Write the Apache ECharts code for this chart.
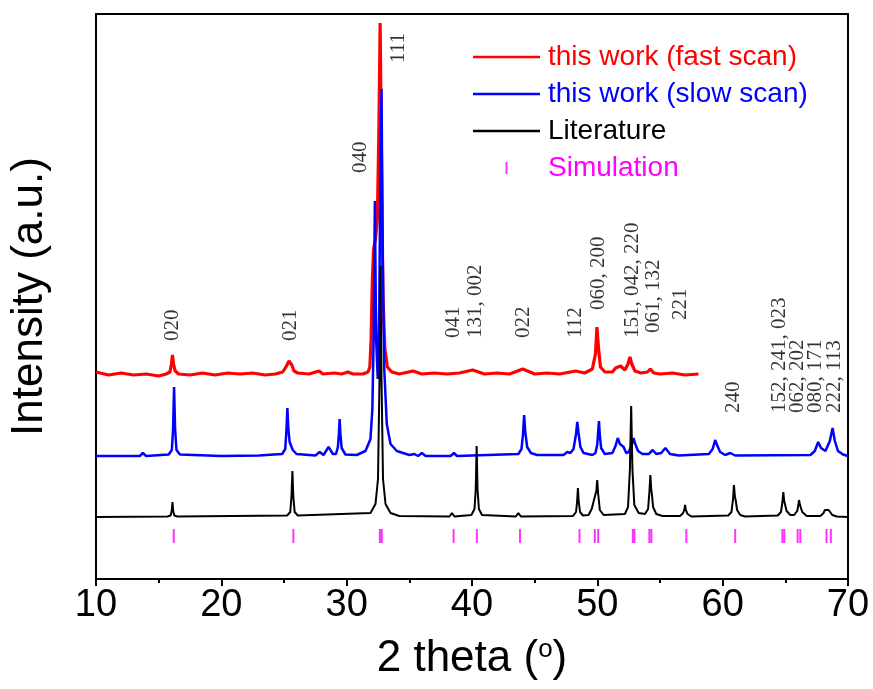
<!DOCTYPE html>
<html><head><meta charset="utf-8">
<script src="https://cdn.jsdelivr.net/npm/echarts/dist/echarts.min.js"></script>
<style>html,body{margin:0;padding:0;background:#fff}#c{width:873px;height:689px}</style>
</head><body><div id="c"></div>
<script>
// x-axis tick values (2 theta, degrees)
const xTickMin = 10, xTickMax = 70, xTickStep = 10;

// Series names
const seriesNames = ['this work (fast scan)', 'this work (slow scan)', 'Literature', 'Simulation'];

// Fast scan pattern [2theta, intensity a.u. incl. vertical offset]
const fastScan = [
 [10,207],[11,204],[12,206],[13,204],[14,205],[15,203],[15.6,205],[15.9,207],[16.02,215],[16.1,224],[16.18,215],[16.32,208],[16.6,205],
 [17.5,204],[18.5,206],[19.5,204],[20.5,206],[21.5,205],[22.5,206],[23.5,204],[24.3,205],[24.9,207],[25.2,213],[25.4,218],[25.5,217],[25.62,214],[25.8,208],[26.1,206],
 [27,205],[27.8,208],[28.1,205],[29,206],[29.6,205],[30.1,207],[30.5,205],[31.3,205],[31.7,207],[31.85,212],[31.95,240],[32.05,300],[32.15,330],[32.3,340],[32.45,360],[32.57,450],[32.67,556],[32.77,430],[32.9,280],[33.05,230],[33.25,212],[33.6,207],
 [34.2,205],[35.3,208],[36,205],[37,206],[38,205],[39,206],[40.05,209],[41,205],[42,206],[43,205],[44.05,210],[45,205],[46,206],[47,205],[48.27,208],[49,206],
 [49.6,210],[49.85,225],[49.97,252],[50.1,230],[50.25,212],[50.6,207],[51.2,207],[51.46,211],[51.6,209],[51.86,213],[52.2,209],[52.45,215],[52.6,222],[52.75,215],[53,208],[53.5,206],
 [54,207],[54.23,210],[54.5,206],[55,205],[56,206],[57,204],[58.07,205]
];

// Slow scan pattern
const slowScan = [
 [10,123],[13.5,123],[13.74,126],[14,123],
 [15.8,124.5],[16.05,129],[16.15,150],[16.23,192],[16.31,150],[16.42,129],[16.7,124.5],
 [20,123],[23,123.5],
 [24.85,125],[25.1,130],[25.2,150],[25.27,171],[25.35,150],[25.45,137],[25.58,136],[25.7,129],[26,125],
 [27.5,123.5],[27.85,127],[28.15,124],[28.56,132],[28.9,125],
 [29.15,125],[29.3,132],[29.38,145],[29.44,160],[29.5,145],[29.6,131],[29.9,124.5],
 [30.8,124],[31.5,128],[31.9,140],[32.05,170],[32.15,240],[32.25,378],[32.35,240],[32.48,200],[32.6,270],[32.7,420],[32.78,490],[32.88,320],[33,210],[33.2,155],[33.5,135],[34,128],[35,124],
 [35.4,125],[35.7,123],[36,126],[36.3,123],[38.3,123],[38.56,126],[38.8,123],
 [43.7,125],[43.95,130],[44.07,145],[44.16,164],[44.25,147],[44.4,132],[44.7,126],[45.2,124],
 [47.3,124],[47.6,127],[47.85,126],
 [48.1,130],[48.3,145],[48.4,157],[48.5,146],[48.65,132],[48.9,126],[49.6,124],
 [49.85,126],[50,135],[50.07,148],[50.13,158],[50.19,145],[50.3,131],[50.6,125],
 [51.2,126],[51.45,133],[51.63,141],[51.8,135],[52.1,132],[52.3,126],[52.5,127],[52.75,134],[52.9,141],[53,136],[53.25,128],[53.6,125],
 [54.1,125],[54.42,129],[54.7,125],[55.1,126],[55.43,131],[55.8,125],[56.5,123.5],
 [58.9,125],[59.2,130],[59.4,139],[59.55,134],[59.8,127],[60.2,124],[60.6,126],[61,123.5],
 [67,124],[67.35,128],[67.62,137],[67.85,131],[68.2,128],[68.55,138],[68.77,151],[68.95,138],[69.2,128],[69.6,124.5],[70,123]
];

// Literature pattern
const literature = [
 [10,62],[15.7,62.5],[15.95,63.5],[16.04,68],[16.1,77],[16.16,68],[16.25,63.5],[16.5,62.5],
 [25.25,63.5],[25.5,67],[25.6,83],[25.67,108],[25.74,83],[25.85,67],[26.1,63.5],
 [31.9,66],[32.3,75],[32.5,100],[32.62,200],[32.7,313],[32.78,200],[32.9,100],[33.1,75],[33.5,66],[34.2,63],
 [38.2,62.5],[38.4,66],[38.6,62.5],
 [39.95,64],[40.2,70],[40.3,90],[40.37,133],[40.44,90],[40.55,70],[40.8,64],
 [43.5,62.5],[43.7,66],[43.9,62.5],
 [48.05,63],[48.3,67],[48.39,78],[48.45,91],[48.51,78],[48.62,67],[48.85,63.5],
 [49.3,64],[49.55,70],[49.67,76],[49.8,77],[49.92,88],[49.99,99],[50.06,86],[50.2,69],[50.5,64],
 [52.2,65],[52.45,72],[52.6,110],[52.7,173],[52.8,110],[52.95,74],[53.3,66],
 [53.8,65],[54.05,70],[54.16,88],[54.23,104],[54.3,90],[54.36,84],[54.45,72],[54.7,65],[55.2,63],
 [56.6,63],[56.85,66],[56.95,70],[57,74],[57.06,69],[57.2,65],[57.5,62.5],
 [60.45,63.5],[60.7,67],[60.83,80],[60.9,94],[60.97,83],[61.05,78],[61.15,69],[61.4,64],[61.8,62.5],
 [64.4,63.5],[64.65,67],[64.77,77],[64.84,87],[64.91,78],[64.97,75],[65.1,68],[65.4,64],
 [65.7,64],[65.95,68],[66.04,74],[66.09,79],[66.16,75],[66.22,72],[66.35,67],[66.7,63],
 [67.8,63],[68.05,66],[68.16,69],[68.3,67.5],[68.45,69],[68.55,68],[68.75,64],[69.1,62.5],[70,62]
];

// Simulated reflection positions (2theta)
const simPositions = [16.2,25.75,32.65,32.8,38.53,40.39,43.83,48.58,49.8,50.07,52.83,52.96,54.15,54.31,57.1,61.0,64.76,64.92,65.98,66.19,68.29,68.63];
const simLevel = 43;

// hkl annotations: [text, 2theta, intensity at start of text]
const annotText = ['020','021','040','111','041','131, 002','022','112','060, 200','151, 042, 220','061, 132','221','240','152, 241, 023','062, 202','080, 171','222, 113'];
const annotX    = [16.13,25.5,31.08,34.16,38.56,40.31,44.13,48.27,50.1,52.8,54.47,56.62,60.84,64.57,66.0,67.42,68.93];
const annotY    = [238,238,406,516,241,241,241,241,269,241,246,259,166,166,166,166,166];

const SANS = 'Liberation Sans, Arial, sans-serif';
const SERIF = 'Liberation Serif, Times New Roman, serif';

const chart = echarts.init(document.getElementById('c'), null, {renderer:'canvas'});
const axisLineStyle = {color:'#000', width:2};
const lineIcon = 'path://M0,0H67V2.5H0Z';
chart.setOption({
  animation:false,
  backgroundColor:'#fff',
  grid:{left:94, right:25, top:14, bottom:110, containLabel:false},
  legend:{
    orient:'vertical', left:473, top:43, padding:0,
    itemWidth:67, itemHeight:12, itemGap:9,
    textStyle:{fontFamily:SANS, fontSize:28, padding:[0,0,0,3]},
    data:[
      {name:seriesNames[0], icon:lineIcon, textStyle:{color:'#ff0000'}},
      {name:seriesNames[1], icon:lineIcon, textStyle:{color:'#0000ff'}},
      {name:seriesNames[2], icon:lineIcon, textStyle:{color:'#000000'}},
      {name:seriesNames[3], icon:'path://M0,0H1V6H0Z', textStyle:{color:'#ff00ff'}}
    ]
  },
  xAxis:[{
    type:'value', min:xTickMin, max:xTickMax, interval:xTickStep, position:'bottom',
    axisLine:{show:true, onZero:false, lineStyle:axisLineStyle},
    axisTick:{show:true, length:7, lineStyle:{color:'#000', width:2}},
    minorTick:{show:true, splitNumber:2, length:4, lineStyle:{color:'#000', width:2}},
    axisLabel:{fontFamily:SANS, fontSize:38, color:'#000', margin:8},
    splitLine:{show:false},
    name:'{a|2 theta (}{s|o}{a|)}', nameLocation:'middle', nameGap:58,
    nameTextStyle:{fontFamily:SANS, fontSize:44, color:'#000',
      rich:{a:{fontFamily:SANS, fontSize:44, color:'#000'}, s:{fontFamily:SANS, fontSize:26, color:'#000', verticalAlign:'top'}}}
  },{
    type:'value', min:xTickMin, max:xTickMax, position:'top',
    axisLine:{show:true, onZero:false, lineStyle:axisLineStyle},
    axisTick:{show:false}, axisLabel:{show:false}, splitLine:{show:false}
  }],
  yAxis:[{
    type:'value', min:0, max:565, position:'left',
    axisLine:{show:true, onZero:false, lineStyle:axisLineStyle},
    axisTick:{show:false}, axisLabel:{show:false}, splitLine:{show:false},
    name:'Intensity (a.u.)', nameLocation:'middle', nameGap:44, nameRotate:90,
    nameTextStyle:{fontFamily:SANS, fontSize:44, color:'#000'}
  },{
    type:'value', min:0, max:565, position:'right',
    axisLine:{show:true, onZero:false, lineStyle:axisLineStyle},
    axisTick:{show:false}, axisLabel:{show:false}, splitLine:{show:false}
  }],
  series:[
    {name:seriesNames[0], type:'line', data:fastScan, symbol:'none', color:'#ff0000', lineStyle:{width:3.2, color:'#ff0000'}, z:2},
    {name:seriesNames[1], type:'line', data:slowScan, symbol:'none', color:'#0000ff', lineStyle:{width:2.5, color:'#0000ff'}, z:3},
    {name:seriesNames[2], type:'line', data:literature, symbol:'none', color:'#000000', lineStyle:{width:2, color:'#000000'}, z:4},
    {name:seriesNames[3], type:'scatter', data:simPositions.map(x=>[x, simLevel]), symbol:'rect', symbolSize:[2,14], color:'#ff00ff', itemStyle:{color:'#ff00ff'}, z:5},
    {name:'hkl', type:'scatter', symbolSize:0, silent:true, z:6,
     data:annotText.map((t,i)=>({name:t, value:[annotX[i], annotY[i]]})),
     label:{show:true, position:'inside', formatter:p=>p.name, rotate:90, align:'left', verticalAlign:'middle',
            fontFamily:SERIF, fontSize:21, color:'#000'}}
  ]
});
</script>
</body></html>
